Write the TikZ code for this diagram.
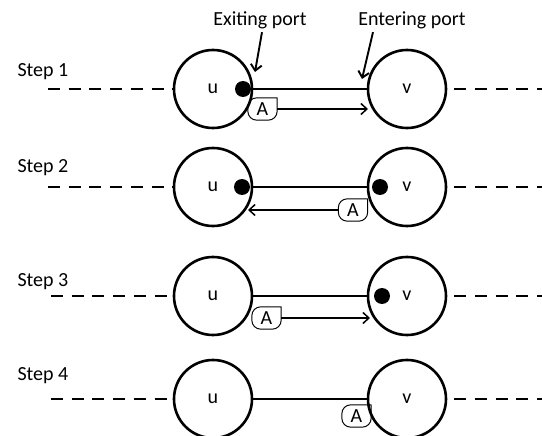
\documentclass[tikz,border=0pt]{standalone}
\usepackage{fontspec}
\setmainfont{Carlito}
\usetikzlibrary{arrows.meta}
% outline of a message: rounded everywhere except the top right corner
\newcommand\msgbox[1]{%
  \draw[msgline] (#1.north east) -- ([xshift=9pt]#1.north west)
    arc[start angle=90,end angle=180,radius=9pt] -- ([yshift=9pt]#1.south west)
    arc[start angle=180,end angle=270,radius=9pt] -- ([xshift=-9pt]#1.south east)
    arc[start angle=270,end angle=360,radius=9pt] -- cycle;}
\begin{document}
\begin{tikzpicture}[x=1pt,y=-1pt,line join=round,font=\fontsize{20}{24}\selectfont,
    >={Straight Barb[length=6pt,width=11pt]},
    proc/.style={circle,draw,line width=2.6pt,minimum size=78pt,inner sep=0pt},
    port/.style={circle,fill,minimum size=16pt,inner sep=0pt},
    msg/.style={minimum width=29pt,minimum height=22pt,inner sep=0pt},
    msgline/.style={line width=1pt},
    linkline/.style={line width=2.4pt},
    dashleft/.style={line width=2.8pt,dash pattern=on 12pt off 8.7pt},
    dashright/.style={line width=2.8pt,dash pattern=on 12pt off 8.7pt,dash phase=13.7pt},
    sendarrow/.style={->,line width=1.5pt}]
  \useasboundingbox (0,0) rectangle (542,436);
  % processes of the four steps
  \foreach \n/\y/\ly/\lx in {1/89/77/48,2/187/173/48,3/296/287/51,4/399/381/51}{
    \node[anchor=base west] (s\n) at (14,\ly) {Step \n};
    \node[proc] (u\n) at (213,\y) {u};
    \node[proc] (v\n) at (407,\y) {v};
    \coordinate (l\n) at (\lx,\y);
    \coordinate (r\n) at (548,\y);
    \draw[dashleft] (l\n) -- (u\n);
    \draw[dashright] (v\n) -- (r\n);
    \draw[linkline] (u\n) -- (v\n);
  }
  % ports
  \node[port] (pu1) at (243,89) {};
  \node[port] (pu2) at (242,187) {};
  \node[port] (pv2) at (380,187) {};
  \node[port] (pv3) at (382,296) {};
  % headers
  \node (exiting) at (260,20) {Exiting port};
  \node (entering) at (412,20) {Entering port};
  \coordinate (ex) at (255,72);
  \coordinate (en) at (362,79);
  \draw[->,line width=1.9pt] ([xshift=2pt]exiting.south) -- (ex);
  \draw[->,line width=1.9pt] ([xshift=-39pt]entering.south) -- (en);
  % messages
  \node[msg] (m1) at (262.5,109) {A};
  \node[msg] (m2) at (353,210) {A};
  \node[msg] (m3) at (266.5,318) {A};
  \node[msg] (m4) at (356.5,416) {A};
  \foreach \m in {m1,m2,m3,m4}{\msgbox{\m}}
  \coordinate (t1) at (368,109);
  \coordinate (t2) at (248,210);
  \coordinate (t3) at (370,318);
  \draw[sendarrow] (m1) -- (t1);
  \draw[sendarrow] (m2) -- (t2);
  \draw[sendarrow] (m3) -- (t3);
\end{tikzpicture}
\end{document}
